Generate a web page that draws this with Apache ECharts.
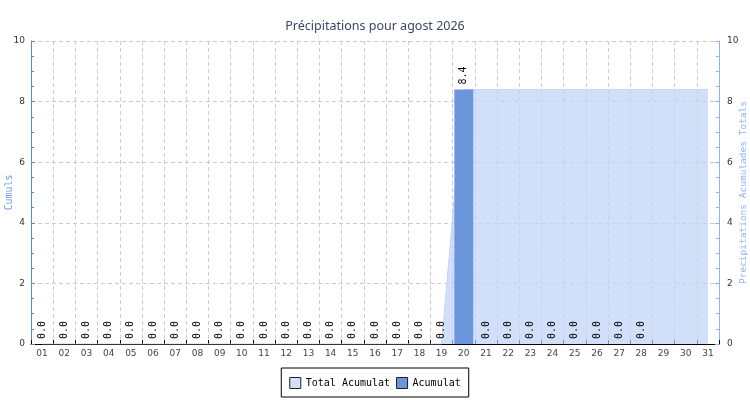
<!DOCTYPE html>
<html>
<head>
<meta charset="utf-8">
<script src="https://cdn.jsdelivr.net/npm/echarts@6/dist/echarts.min.js"></script>
<style>html,body{margin:0;padding:0;background:#fff}#c{width:750px;height:400px}</style>
</head>
<body>
<div id="c"></div>
<script>
const days = ['01','02','03','04','05','06','07','08','09','10','11','12','13','14','15','16','17','18','19','20','21','22','23','24','25','26','27','28','29','30','31'];
const acumulat = [0,0,0,0,0,0,0,0,0,0,0,0,0,0,0,0,0,0,0,8.4,0,0,0,0,0,0,0,0,null,null,null];
const totalAcumulat = [0,0,0,0,0,0,0,0,0,0,0,0,0,0,0,0,0,0,0,8.4,8.4,8.4,8.4,8.4,8.4,8.4,8.4,8.4,8.4,8.4,8.4];
const yTicks = [0,2,4,6,8,10];

const mono = 'DejaVu Sans Mono';
const chart = echarts.init(document.getElementById('c'), null, {renderer:'canvas'});
chart.setOption({
  backgroundColor:'#ffffff',
  animation:false,
  title:{
    text:'Précipitations pour agost 2026',
    left:'center', top:15,
    textStyle:{fontFamily:'Noto Sans', fontSize:12.5, fontWeight:'normal', color:'#3b4664'}
  },
  legend:{
    bottom:3, left:'center',
    data:['Total Acumulat','Acumulat'],
    icon:'rect', itemWidth:11, itemHeight:11, itemGap:6,
    padding:[9,8,8,8],
    borderColor:'#000', borderWidth:1, borderRadius:0,
    textStyle:{fontFamily:mono, fontSize:10, color:'#000'},
    itemStyle:{borderColor:'#222', borderWidth:1}
  },
  grid:{left:31, right:31, top:41, bottom:56, outerBoundsMode:'none', containLabel:false},
  xAxis:{
    type:'category', data:days, boundaryGap:true,
    axisLine:{lineStyle:{color:'#000', width:1}},
    axisTick:{show:true, inside:true, length:4, alignWithLabel:false, lineStyle:{color:'#000'}},
    axisLabel:{fontFamily:'DejaVu Sans', fontSize:9, color:'#444', margin:5, interval:0},
    splitLine:{show:true, lineStyle:{color:'#cccccc', type:[4,3]}}
  },
  yAxis:[{
    type:'value', min:yTicks[0], max:yTicks[yTicks.length-1], interval:2,
    name:'Cumuls', nameLocation:'middle', nameGap:17, nameMoveOverlap:false,
    nameTextStyle:{fontFamily:mono, fontSize:10, color:'#6d9ae8'},
    axisLine:{show:true, lineStyle:{color:'#5b87d8'}},
    axisTick:{show:true, inside:true, length:4, lineStyle:{color:'#5b87d8'}},
    minorTick:{show:true, splitNumber:4, length:3, lineStyle:{color:'#5b87d8'}},
    axisLabel:{fontFamily:'DejaVu Sans', fontSize:9, color:'#333', margin:6},
    splitLine:{show:true, lineStyle:{color:'#cccccc', type:[4,3]}}
  },{
    type:'value', min:yTicks[0], max:yTicks[yTicks.length-1], interval:2,
    name:'Precipitations Acumulades Totals', nameLocation:'middle', nameGap:20, nameMoveOverlap:false,
    nameTextStyle:{fontFamily:mono, fontSize:9.5, color:'#8ab4f8'},
    axisLine:{show:true, lineStyle:{color:'#8ab4f8'}},
    axisTick:{show:true, inside:true, length:4, lineStyle:{color:'#8ab4f8'}},
    minorTick:{show:true, splitNumber:4, length:3, lineStyle:{color:'#8ab4f8'}},
    axisLabel:{fontFamily:'DejaVu Sans', fontSize:9, color:'#333', margin:8},
    splitLine:{show:false}
  }],
  series:[{
    name:'Total Acumulat', type:'line', yAxisIndex:1, data:totalAcumulat,
    showSymbol:false, symbol:'none', z:1,
    lineStyle:{color:'#c4d4f4', width:1},
    areaStyle:{color:'rgba(190,210,245,0.7)', opacity:1},
    itemStyle:{color:'#d2e0f8'}
  },{
    name:'Acumulat', type:'bar', yAxisIndex:0, data:acumulat,
    barWidth:'85%', z:3,
    itemStyle:{color:'#6b96dc'},
    label:{show:true, position:'top', rotate:90, distance:5, align:'left', verticalAlign:'middle',
      fontFamily:mono, fontSize:10, color:'#000',
      formatter:p => p.value == null ? '' : Number(p.value).toFixed(1)}
  }]
});
</script>
</body>
</html>
